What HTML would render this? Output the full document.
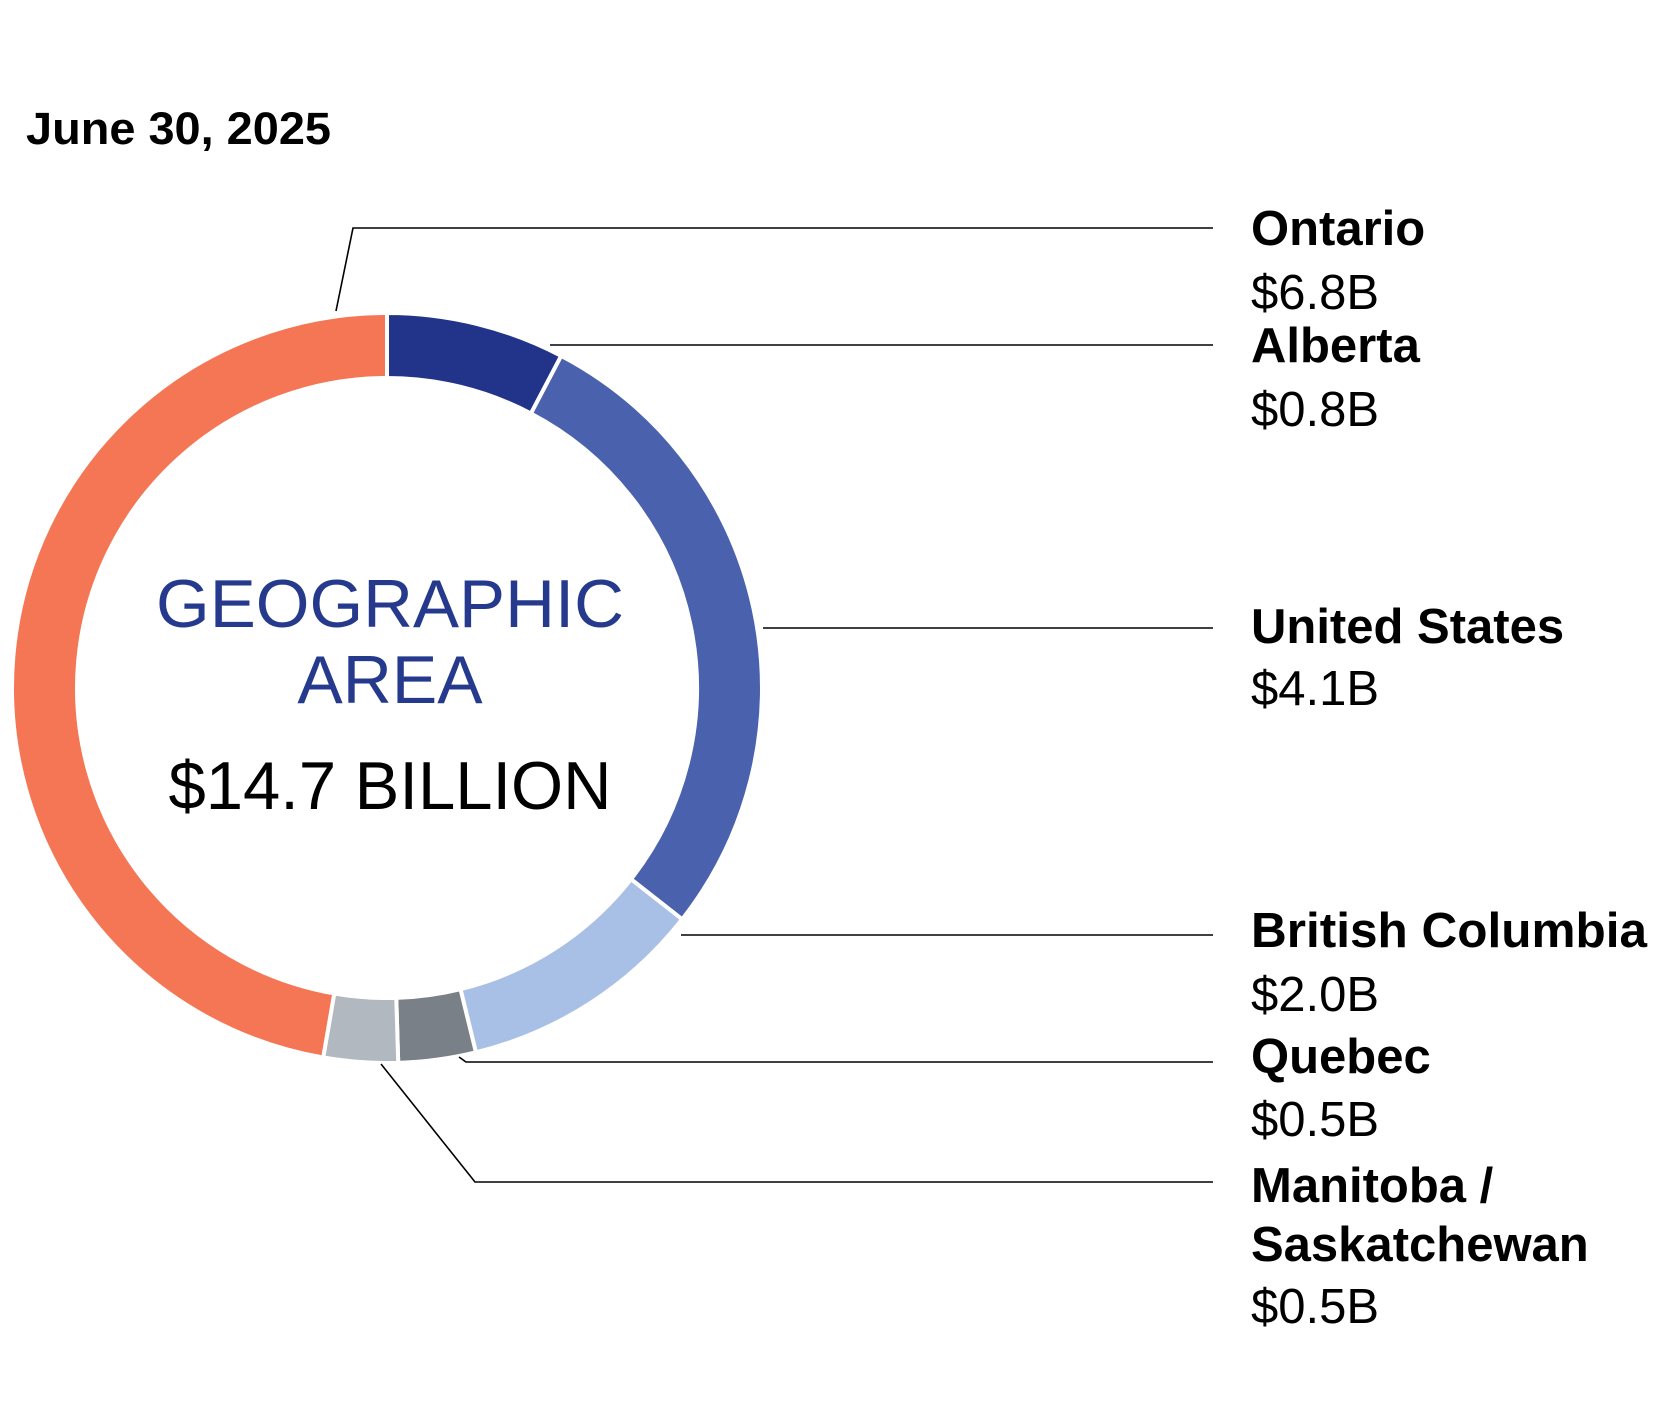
<!DOCTYPE html>
<html><head><meta charset="utf-8"><style>
html,body{margin:0;padding:0;background:#fff;}
svg{display:block;font-family:"Liberation Sans",Arial,sans-serif;}
</style></head><body>
<svg id="chart" width="1667" height="1404" viewBox="0 0 1667 1404">
<text x="26" y="144" font-size="45" font-weight="bold" fill="#000" textLength="305" lengthAdjust="spacingAndGlyphs">June 30, 2025</text>
<g id="slices"></g>
<g id="leaders" stroke="#000" stroke-width="1.6" fill="none">
<polyline points="336,311 353,228 1213,228"/>
<polyline points="550,345 1213,345"/>
<polyline points="763,628 1213,628"/>
<polyline points="681,935 1213,935"/>
<polyline points="459,1057 466,1062 1213,1062"/>
<polyline points="381,1064 475,1182 1213,1182"/>
</g>
<g text-anchor="middle">
<text x="390" y="627" font-size="68" fill="#253a8c" textLength="468" lengthAdjust="spacingAndGlyphs">GEOGRAPHIC</text>
<text x="390" y="703" font-size="68" fill="#253a8c">AREA</text>
<text x="390" y="809" font-size="68" fill="#000" textLength="443" lengthAdjust="spacingAndGlyphs">$14.7 BILLION</text>
</g>
<g id="labels" font-size="49" fill="#000">
<text x="1251" y="245" font-weight="bold">Ontario</text>
<text x="1251" y="309">$6.8B</text>
<text x="1251" y="362" font-weight="bold">Alberta</text>
<text x="1251" y="426">$0.8B</text>
<text x="1251" y="643" font-weight="bold">United States</text>
<text x="1251" y="705">$4.1B</text>
<text x="1251" y="947" font-weight="bold" textLength="396" lengthAdjust="spacingAndGlyphs">British Columbia</text>
<text x="1251" y="1011">$2.0B</text>
<text x="1251" y="1073" font-weight="bold">Quebec</text>
<text x="1251" y="1136">$0.5B</text>
<text x="1251" y="1202" font-weight="bold">Manitoba /</text>
<text x="1251" y="1261" font-weight="bold">Saskatchewan</text>
<text x="1251" y="1323">$0.5B</text>
</g>
</svg>
<script>
const categories = ["Alberta","United States","British Columbia","Quebec","Manitoba / Saskatchewan","Ontario"];
const sliceValues = [1.13, 4.1, 1.56, 0.49, 0.47, 6.95];
const sliceColors = ["#21348a","#4a62ad","#a8bfe6","#7a8087","#b1b8bf","#f47655"];
const cx=387, cy=688, R=375, r=310;
const total = sliceValues.reduce((a,b)=>a+b,0);
function angleOf(v){ return v/total*2*Math.PI; }
function pt(rad,a){ return [cx+rad*Math.sin(a), cy-rad*Math.cos(a)]; }
const g=document.getElementById('slices');
let acc=0;
sliceValues.forEach((v,i)=>{
  const a0=angleOf(acc), a1=angleOf(acc+v); acc+=v;
  const large=(a1-a0)>Math.PI?1:0;
  const p0=pt(R,a0),p1=pt(R,a1),q1=pt(r,a1),q0=pt(r,a0);
  const d=`M${p0} A${R},${R} 0 ${large} 1 ${p1} L${q1} A${r},${r} 0 ${large} 0 ${q0} Z`;
  const p=document.createElementNS('http://www.w3.org/2000/svg','path');
  p.setAttribute('d',d);
  p.setAttribute('fill',sliceColors[i]);
  p.setAttribute('stroke','#fff');
  p.setAttribute('stroke-width','4');
  
  
  g.appendChild(p);
});
</script>
</body></html>
